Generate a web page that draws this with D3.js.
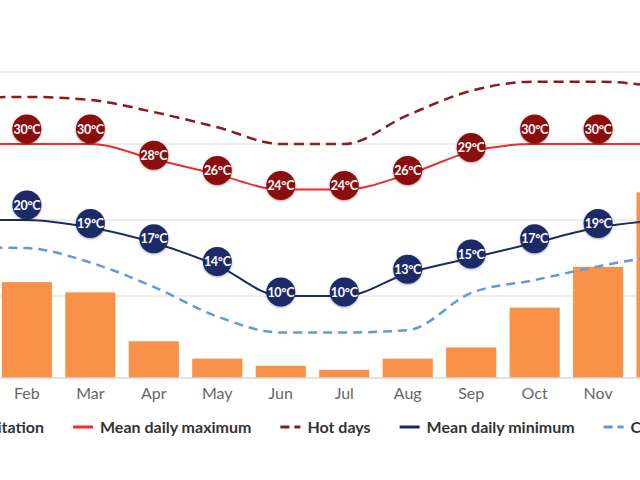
<!DOCTYPE html>
<html>
<head>
<meta charset="utf-8">
<script src="https://cdn.jsdelivr.net/npm/d3@7/dist/d3.min.js"></script>
<style>
    body { margin: 0; background: #fff; }
    svg { display: block; font-family: Lato, "Open Sans", sans-serif; }
</style>
</head>
<body>
<div id="chart"></div>
<script>
/**** DATA ****/

var months = ["Jan", "Feb", "Mar", "Apr", "May", "Jun", "Jul", "Aug", "Sep", "Oct", "Nov", "Dec"];
// mm per month
var precipitation = [160, 94, 84, 36, 19, 12, 8, 19, 30, 69, 109, 182];
// degrees C
var meanMax = [30, 30, 30, 28, 26, 24, 24, 26, 29, 30, 30, 30];
var meanMin = [20, 20, 19, 17, 14, 10, 10, 13, 15, 17, 19, 20];
var hotDays = [36, 36.2, 35.8, 34.2, 32.2, 30, 30, 33.8, 37, 38.2, 38.2, 37.5];
var coldNights = [16.4, 16.3, 14.4, 11.2, 7.3, 5.2, 5.2, 5.5, 10.4, 12.1, 13.9, 15.4];
var tempGridValues = [10, 20, 30];
var legendLabels = ["Precipitation", "Mean daily maximum", "Hot days", "Mean daily minimum", "Cold nights"];

/**** LAYOUT ****/

var WIDTH = 640;
var HEIGHT = 480;
var PLOT_TOP = 72;
var BASELINE = 378;

var svg = d3.select("#chart")
    .append("svg")
    .attr("width", WIDTH)
    .attr("height", HEIGHT);

svg.append("rect")
    .attr("width", WIDTH)
    .attr("height", HEIGHT)
    .attr("fill", "#fff");

// the chart is wider than the window, Jan and Dec fall off the edges
var x = d3.scaleBand()
    .domain(months)
    .range([-68, 693])
    .paddingInner(0.21)
    .paddingOuter(0.1);

var xCenter = function(m) {
    return x(m) + x.bandwidth() / 2;
};

// only months whose centre is inside the window get text
var isVisible = function(m) {
    var c = xCenter(m);
    return c > 0 && c < WIDTH;
};

var yTemp = d3.scaleLinear()
    .domain([0, 40])
    .range([372, 68]);

var yPrecip = d3.scaleLinear()
    .domain([0, 300])
    .range([BASELINE, PLOT_TOP]);

/**** GRID ****/

svg.append("line")
    .attr("x1", 0).attr("x2", WIDTH)
    .attr("y1", PLOT_TOP).attr("y2", PLOT_TOP)
    .attr("stroke", "#e3e3e3")
    .attr("stroke-width", 1.5);

svg.append("g")
    .selectAll("line")
    .data(tempGridValues)
    .join("line")
    .attr("x1", 0).attr("x2", WIDTH)
    .attr("y1", function(d) { return yTemp(d); })
    .attr("y2", function(d) { return yTemp(d); })
    .attr("stroke", "#dcdcdc")
    .attr("stroke-width", 1.2);

/**** BARS ****/

svg.append("g")
    .selectAll("rect")
    .data(months)
    .join("rect")
    .attr("x", function(m) { return x(m); })
    .attr("width", x.bandwidth())
    .attr("y", function(m, i) { return yPrecip(precipitation[i]); })
    .attr("height", function(m, i) { return BASELINE - yPrecip(precipitation[i]); })
    .attr("fill", "#f99248");

svg.append("line")
    .attr("x1", 0).attr("x2", WIDTH)
    .attr("y1", BASELINE).attr("y2", BASELINE)
    .attr("stroke", "#d8d8d8")
    .attr("stroke-width", 1.5);

// month labels along the bottom
var xAxis = svg.append("g")
    .attr("transform", "translate(0," + BASELINE + ")")
    .call(d3.axisBottom(x)
        .tickValues(months.filter(isVisible))
        .tickSize(0)
        .tickPadding(10));
xAxis.select(".domain").remove();
xAxis.selectAll("text")
    .attr("font-family", "Lato, sans-serif")
    .attr("font-size", 16)
    .attr("fill", "#666");

/**** LINES ****/

var series = [
    { values: coldNights, color: "#5c9be3", dash: "9,6", width: 2.5 },
    { values: hotDays, color: "#8b1a1a", dash: "10,6", width: 2.5 },
    { values: meanMax, color: "#ee2a2a", dash: null, width: 2 },
    { values: meanMin, color: "#1d2a68", dash: null, width: 2 }
];

var line = d3.line()
    .x(function(d, i) { return xCenter(months[i]); })
    .y(function(d) { return yTemp(d); })
    .curve(d3.curveMonotoneX);

svg.append("g")
    .selectAll("path")
    .data(series)
    .join("path")
    .attr("d", function(s) { return line(s.values); })
    .attr("fill", "none")
    .attr("stroke", function(s) { return s.color; })
    .attr("stroke-width", function(s) { return s.width; })
    .attr("stroke-dasharray", function(s) { return s.dash; });

/**** POINT LABELS ****/

var shadow = svg.append("defs").append("filter")
    .attr("id", "shadow")
    .attr("x", "-30%").attr("y", "-30%")
    .attr("width", "160%").attr("height", "160%");
shadow.append("feDropShadow")
    .attr("dx", 0).attr("dy", 1)
    .attr("stdDeviation", 1.2)
    .attr("flood-opacity", 0.35);

// labels at a local peak are lifted to sit on top of the line
var labelOffset = function(values, i) {
    var prev = i > 0 ? values[i - 1] : values[i];
    var next = i < values.length - 1 ? values[i + 1] : values[i];
    return (values[i] >= prev && values[i] >= next) ? -15 : -4;
};

var drawLabels = function(values, fill) {
    var points = values.map(function(v, i) {
        return { month: months[i], value: v, offset: labelOffset(values, i) };
    }).filter(function(p) { return isVisible(p.month); });

    var g = svg.append("g")
        .selectAll("g")
        .data(points)
        .join("g")
        .attr("transform", function(p) {
            return "translate(" + xCenter(p.month) + "," + (yTemp(p.value) + p.offset) + ")";
        });
    g.append("circle")
        .attr("r", 14.5)
        .attr("fill", fill)
        .attr("filter", "url(#shadow)");
    g.append("text")
        .attr("text-anchor", "middle")
        .attr("dy", "0.36em")
        .attr("font-size", 12.5)
        .attr("font-weight", "bold")
        .attr("letter-spacing", -0.3)
        .attr("fill", "#fff")
        .text(function(p) { return p.value + "°C"; });
};

drawLabels(meanMax, "#8c0c0c");
drawLabels(meanMin, "#1d2a68");

/**** LEGEND ****/

var legendItems = [
    { type: "rect", color: "#f99248", dash: null },
    { type: "line", color: "#ee2a2a", dash: null },
    { type: "line", color: "#8b1a1a", dash: "9,5" },
    { type: "line", color: "#1d2a68", dash: null },
    { type: "line", color: "#5c9be3", dash: "9,5" }
];

var SWATCH = 20;
var SWATCH_GAP = 7;
var ITEM_GAP = 29;
var LEGEND_Y = 427;

var legend = svg.append("g");
var cursor = 0;
var anchors = [];
legendItems.forEach(function(item, i) {
    var g = legend.append("g");
    if (item.type === "rect") {
        g.append("rect")
            .attr("x", 0).attr("y", LEGEND_Y - 7)
            .attr("width", 14).attr("height", 14)
            .attr("fill", item.color);
    } else {
        g.append("line")
            .attr("x1", 0).attr("x2", SWATCH)
            .attr("y1", LEGEND_Y).attr("y2", LEGEND_Y)
            .attr("stroke", item.color)
            .attr("stroke-width", 3)
            .attr("stroke-dasharray", item.dash);
    }
    var text = g.append("text")
        .attr("x", SWATCH + SWATCH_GAP)
        .attr("y", LEGEND_Y)
        .attr("dy", "0.35em")
        .attr("font-size", 16)
        .attr("font-weight", "bold")
        .attr("fill", "#333")
        .text(legendLabels[i]);
    var w = SWATCH + SWATCH_GAP + text.node().getComputedTextLength();
    g.attr("transform", "translate(" + cursor + ",0)");
    anchors.push(cursor);
    cursor += w + ITEM_GAP;
});
// the "Mean daily maximum" swatch starts near the left edge, the legend runs off both sides
legend.attr("transform", "translate(" + (73 - anchors[1]) + ",0)");
</script>
</body>
</html>
